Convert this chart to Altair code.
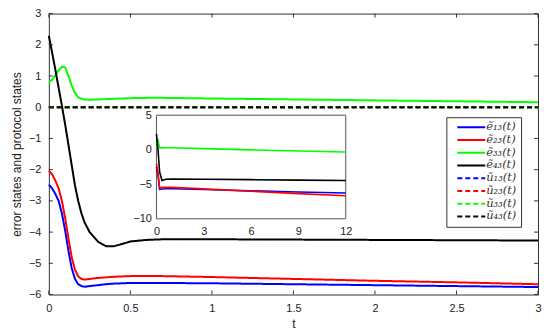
import altair as alt
import pandas as pd

# ---------------- data ----------------
t_main = [0, 0.02, 0.04, 0.06, 0.08, 0.1, 0.12, 0.14, 0.16, 0.18, 0.2, 0.22, 0.25,
          0.3, 0.35, 0.4, 0.45, 0.5, 0.6, 0.7, 1.0, 1.5, 2.0, 2.5, 3.0]
e13 = [-2.48, -2.6, -2.78, -3.0, -3.4, -3.95, -4.6, -5.15, -5.5, -5.67, -5.73, -5.75, -5.73,
       -5.7, -5.67, -5.65, -5.64, -5.63, -5.63, -5.63, -5.64, -5.67, -5.7, -5.73, -5.76]
e23 = [-2.03, -2.15, -2.35, -2.6, -3.0, -3.55, -4.2, -4.8, -5.2, -5.42, -5.5, -5.52, -5.5,
       -5.47, -5.45, -5.43, -5.42, -5.41, -5.41, -5.41, -5.44, -5.5, -5.56, -5.61, -5.67]
e33 = [0.8, 0.88, 1.02, 1.18, 1.3, 1.28, 1.0, 0.7, 0.45, 0.32, 0.27, 0.25, 0.24,
       0.25, 0.26, 0.27, 0.28, 0.29, 0.3, 0.3, 0.28, 0.25, 0.22, 0.19, 0.16]
e43 = [2.29, 1.75, 1.2, 0.62, 0.05, -0.55, -1.2, -1.85, -2.5, -3.0, -3.4, -3.7, -4.0,
       -4.3, -4.45, -4.45, -4.38, -4.3, -4.25, -4.23, -4.23, -4.24, -4.25, -4.26, -4.27]
t_u = [0, 3]
u13 = [0, 0]
u23 = [0, 0]
u33 = [0, 0]
u43 = [0, 0]

t_inset = [0, 0.1, 0.2, 0.35, 0.6, 1, 3, 6, 9, 12]
e13_in = [-2.5, -3.7, -5.73, -5.68, -5.64, -5.65, -5.76, -5.95, -6.12, -6.27]
e23_in = [-2.0, -3.4, -5.5, -5.45, -5.42, -5.45, -5.67, -6.0, -6.35, -6.65]
e33_in = [0.8, 1.3, 0.27, 0.27, 0.28, 0.28, 0.16, -0.02, -0.18, -0.33]
e43_in = [2.29, 0.0, -3.2, -4.45, -4.27, -4.25, -4.27, -4.33, -4.4, -4.45]

labels = ["ẽ₁₃(t)", "ẽ₂₃(t)", "ẽ₃₃(t)", "ẽ₄₃(t)",
          "ũ₁₃(t)", "ũ₂₃(t)", "ũ₃₃(t)", "ũ₄₃(t)"]
colors = ["#0000ff", "#ff0000", "#00ff00", "#000000"] * 2
dashes = [[1, 0]] * 4 + [[5, 3]] * 4

x_ticks_main = [0, 0.5, 1, 1.5, 2, 2.5, 3]
y_ticks_main = [-6, -5, -4, -3, -2, -1, 0, 1, 2, 3]
x_ticks_inset = [0, 3, 6, 9, 12]
y_ticks_inset = [5, 0, -5, -10]

# ---------------- layout ----------------
W, H = 491, 282
inset_x_range = [108, 298]
inset_y_range = [206, 102]

rows = []
for lab, ys in zip(labels[:4], [e13, e23, e33, e43]):
    for t, v in zip(t_main, ys):
        rows.append({"t": t, "v": v, "series": lab})
for lab, ys in zip(labels[4:], [u13, u23, u33, u43]):
    for t, v in zip(t_u, ys):
        rows.append({"t": t, "v": v, "series": lab})
df_main = pd.DataFrame(rows)

rows = []
for lab, ys in zip(labels[:4], [e13_in, e23_in, e33_in, e43_in]):
    for t, v in zip(t_inset, ys):
        rows.append({"t": t, "v": v, "series": lab})
df_inset = pd.DataFrame(rows)

xs_main = alt.Scale(domain=[x_ticks_main[0], x_ticks_main[-1]], nice=False, zero=False)
ys_main = alt.Scale(domain=[y_ticks_main[0], y_ticks_main[-1]], nice=False, zero=False)
color_scale = alt.Scale(domain=labels, range=colors)
dash_scale = alt.Scale(domain=labels, range=dashes)

x_axis_main = alt.Axis(values=x_ticks_main, title="t", grid=False, domain=False,
                       ticks=False, labelFlush=False, labelPadding=8,
                       titlePadding=5, labelOverlap=False, format="~g")
y_axis_main = alt.Axis(values=y_ticks_main, title="error states and protocol states",
                       grid=False, domain=False, ticks=False, labelPadding=8,
                       titlePadding=5, labelOverlap=False, format="~g")

legend = alt.Legend(
    title=None, orient="none", legendX=399, legendY=104,
    strokeColor="#333333", fillColor="white", padding=4,
    symbolType="M-2.8,0H2.8", symbolSize=100, symbolStrokeWidth=2,
    symbolOffset=15, labelOffset=9,
    labelFont="DejaVu Serif", labelFontStyle="italic", labelFontSize=11.5,
    rowPadding=0.8, labelColor="#333333",
)

main_lines = alt.Chart(df_main).mark_line(strokeWidth=2).encode(
    x=alt.X("t:Q", scale=xs_main, axis=x_axis_main),
    y=alt.Y("v:Q", scale=ys_main, axis=y_axis_main),
    color=alt.Color("series:N", scale=color_scale, legend=legend, sort=labels),
    strokeDash=alt.StrokeDash("series:N", scale=dash_scale, legend=legend, sort=labels),
    detail="series:N",
)

df_xt = pd.DataFrame({"v": x_ticks_main})
df_yt = pd.DataFrame({"v": y_ticks_main})
tick_len = 4
xt_bottom = alt.Chart(df_xt).mark_rule(color="#333333").encode(
    x=alt.X("v:Q", scale=xs_main, axis=x_axis_main), y=alt.value(H), y2=alt.value(H - tick_len))
xt_top = alt.Chart(df_xt).mark_rule(color="#333333").encode(
    x=alt.X("v:Q", scale=xs_main, axis=x_axis_main), y=alt.value(0), y2=alt.value(tick_len))
yt_left = alt.Chart(df_yt).mark_rule(color="#333333").encode(
    y=alt.Y("v:Q", scale=ys_main, axis=y_axis_main), x=alt.value(0), x2=alt.value(tick_len))
yt_right = alt.Chart(df_yt).mark_rule(color="#333333").encode(
    y=alt.Y("v:Q", scale=ys_main, axis=y_axis_main), x=alt.value(W), x2=alt.value(W - tick_len))

main_group = alt.layer(main_lines, xt_bottom, xt_top, yt_left, yt_right)

xs_in = alt.Scale(domain=[x_ticks_inset[0], x_ticks_inset[-1]], range=inset_x_range,
                  nice=False, zero=False)
ys_in = alt.Scale(domain=[y_ticks_inset[-1], y_ticks_inset[0]], range=inset_y_range,
                  nice=False, zero=False)
x_axis_in = alt.Axis(orient="bottom", offset=inset_y_range[0] - H, values=x_ticks_inset,
                     title=None, grid=False, domain=False, ticks=False,
                     labelFlush=False, labelPadding=7, labelOverlap=False)
y_axis_in = alt.Axis(orient="left", offset=-inset_x_range[0], values=y_ticks_inset,
                     title=None, grid=False, domain=False, ticks=False,
                     labelPadding=5, labelOverlap=False)

df_frame = pd.DataFrame({"x": [x_ticks_inset[0]], "x2": [x_ticks_inset[-1]],
                         "y": [y_ticks_inset[-1]], "y2": [y_ticks_inset[0]]})
inset_frame = alt.Chart(df_frame).mark_rect(fill="white", stroke="#555555", strokeWidth=1).encode(
    x=alt.X("x:Q", scale=xs_in, axis=x_axis_in),
    x2="x2:Q",
    y=alt.Y("y:Q", scale=ys_in, axis=y_axis_in),
    y2="y2:Q",
)
inset_lines = alt.Chart(df_inset).mark_line(strokeWidth=1.6).encode(
    x=alt.X("t:Q", scale=xs_in, axis=x_axis_in),
    y=alt.Y("v:Q", scale=ys_in, axis=y_axis_in),
    color=alt.Color("series:N", scale=color_scale, legend=None),
    detail="series:N",
)
inset_group = alt.layer(inset_frame, inset_lines)

chart = alt.layer(main_group, inset_group).resolve_scale(
    x="independent", y="independent"
).properties(
    width=W, height=H,
    autosize=alt.AutoSizeParams(type="none"),
    padding={"left": 41, "top": 5, "right": 4, "bottom": 35},
).configure_view(
    stroke="#333333", strokeWidth=1
).configure_axis(
    labelFont="Liberation Sans", labelFontSize=11, labelColor="#222222",
    titleFont="Liberation Sans", titleFontSize=12, titleColor="#222222",
    titleFontWeight="normal",
)

chart.save("out.html", embed_options={"renderer": "svg", "actions": False})
